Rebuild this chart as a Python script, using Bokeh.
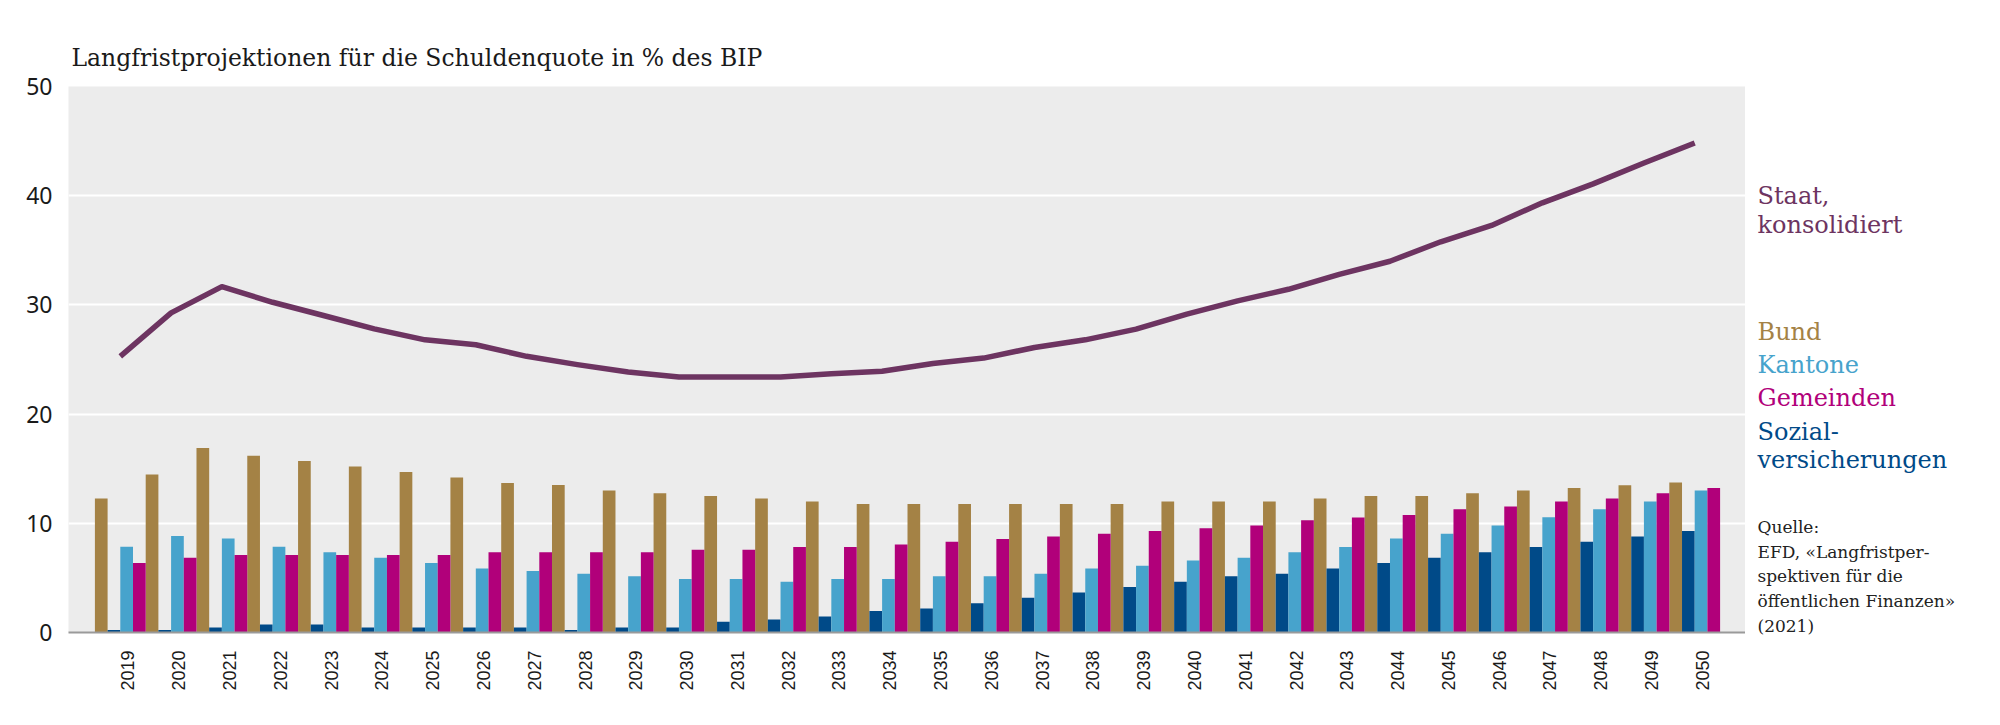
import math
from bokeh.plotting import figure
from bokeh.layouts import row
from bokeh.models import ColumnDataSource, FixedTicker, CustomJSTickFormatter, Label, Range1d
from bokeh.transform import dodge
from bokeh.embed import file_html
from bokeh.resources import INLINE

years = list(range(2019, 2051))
bund = [12.26, 14.46, 16.9, 16.18, 15.7, 15.2, 14.7, 14.2, 13.7, 13.5, 13.0, 12.75, 12.5, 12.26, 12.0, 11.77,
        11.77, 11.77, 11.77, 11.77, 11.77, 12.0, 12.0, 12.0, 12.26, 12.5, 12.5, 12.75, 13.0, 13.24, 13.49, 13.73]
sozial = [0.24, 0.24, 0.46, 0.73, 0.73, 0.46, 0.46, 0.46, 0.46, 0.24, 0.46, 0.46, 0.98, 1.19, 1.47, 1.96,
          2.2, 2.69, 3.18, 3.67, 4.16, 4.65, 5.14, 5.38, 5.87, 6.36, 6.85, 7.34, 7.83, 8.32, 8.8, 9.3]
kantone = [7.86, 8.84, 8.6, 7.86, 7.34, 6.85, 6.36, 5.87, 5.63, 5.38, 5.14, 4.9, 4.9, 4.65, 4.9, 4.9,
           5.14, 5.14, 5.38, 5.87, 6.12, 6.6, 6.85, 7.34, 7.83, 8.6, 9.05, 9.79, 10.55, 11.28, 12.0, 13.0]
gemeinden = [6.36, 6.85, 7.1, 7.1, 7.1, 7.1, 7.1, 7.34, 7.34, 7.34, 7.34, 7.58, 7.58, 7.83, 7.83, 8.07,
             8.32, 8.56, 8.8, 9.05, 9.3, 9.54, 9.79, 10.28, 10.52, 10.76, 11.28, 11.53, 12.0, 12.26, 12.75, 13.24]
staat = [25.29, 29.27, 31.67, 30.24, 29.03, 27.8, 26.8, 26.35, 25.29, 24.53, 23.86, 23.4, 23.4, 23.4, 23.7, 23.92,
         24.64, 25.13, 26.1, 26.8, 27.78, 29.15, 30.37, 31.43, 32.8, 34.0, 35.78, 37.28, 39.35, 41.08, 43.0, 44.83]
y_ticks = [0, 10, 20, 30, 40, 50]

title_text = "Langfristprojektionen für die Schuldenquote in % des BIP"
series_names = ["Bund", "Kantone", "Gemeinden", "Sozial-\nversicherungen"]
staat_name = "Staat,\nkonsolidiert"
source_lines = ["Quelle:", "EFD, «Langfristper-", "spektiven für die", "öffentlichen Finanzen»", "(2021)"]

C_BUND = "#a48245"
C_SOZ = "#004a88"
C_KANT = "#47a3cc"
C_GEM = "#b1007a"
C_STAAT = "#6d3461"

src = ColumnDataSource(dict(year=years, bund=bund, sozial=sozial, kantone=kantone,
                            gemeinden=gemeinden, staat=staat))

H = 717
p = figure(width=1745, height=H, output_backend="svg", toolbar_location=None,
           x_range=Range1d(2017.98, 2051.0), y_range=Range1d(0, 50),
           min_border_left=68, min_border_right=0, min_border_top=86, min_border_bottom=85)
p.frame_align = False

p.background_fill_color = "#ececec"
p.border_fill_color = "white"
p.outline_line_color = None
p.xgrid.grid_line_color = None
p.ygrid.grid_line_color = "white"
p.ygrid.grid_line_width = 2
p.ygrid.ticker = FixedTicker(ticks=y_ticks)

p.title.text = title_text
p.title.text_font = "DejaVu Serif"
p.title.text_font_size = "23.5px"
p.title.text_font_style = "normal"
p.title.text_color = "#1a1a1a"
p.title.align = "left"
p.title.offset = 3
p.title.standoff = 30

bw = 0.25
p.vbar(x=dodge("year", -0.375, range=p.x_range), top="bund", width=bw, source=src,
       fill_color=C_BUND, line_color=None)
p.vbar(x=dodge("year", -0.125, range=p.x_range), top="sozial", width=bw, source=src,
       fill_color=C_SOZ, line_color=None)
p.vbar(x=dodge("year", 0.125, range=p.x_range), top="kantone", width=bw, source=src,
       fill_color=C_KANT, line_color=None)
p.vbar(x=dodge("year", 0.375, range=p.x_range), top="gemeinden", width=bw, source=src,
       fill_color=C_GEM, line_color=None)
p.line(x="year", y="staat", source=src, line_color=C_STAAT, line_width=5.5, line_join="round")

# axes
yax = p.yaxis[0]
yax.ticker = FixedTicker(ticks=y_ticks)
yax.axis_line_color = None
yax.major_tick_line_color = None
yax.major_tick_out = 0
yax.major_tick_in = 0
yax.minor_tick_line_color = None
yax.major_label_text_font = "Noto Sans"
yax.major_label_text_font_size = "23px"
yax.major_label_text_color = "#1a1a1a"
yax.major_label_standoff = 16

xax = p.xaxis[0]
xax.ticker = FixedTicker(ticks=[y + 0.15 for y in years])
xax.formatter = CustomJSTickFormatter(code="return String(Math.round(tick - 0.15));")
xax.major_label_orientation = math.pi / 2
xax.major_label_text_font = "Liberation Sans"
xax.major_label_text_font_size = "18px"
xax.major_label_text_color = "#1a1a1a"
xax.major_label_standoff = 18
xax.major_tick_line_color = None
xax.major_tick_out = 0
xax.major_tick_in = 0
xax.minor_tick_line_color = None
xax.axis_line_color = "#9a9a9a"
xax.axis_line_width = 2

# right-hand text panel (pixel coordinates, y from top)
W2 = 247
p2 = figure(width=W2, height=H, output_backend="svg", toolbar_location=None,
            x_range=Range1d(0, W2), y_range=Range1d(H, 0),
            x_axis_type=None, y_axis_type=None,
            min_border_left=0, min_border_right=0, min_border_top=0, min_border_bottom=0)
p2.frame_align = False
p2.outline_line_color = None
p2.background_fill_color = "white"
p2.border_fill_color = "white"
p2.xgrid.grid_line_color = None
p2.ygrid.grid_line_color = None

SERIF = "DejaVu Serif"
RX = 12

def lab(y, text, color, size):
    p2.add_layout(Label(x=RX, y=y, text=text, text_color=color, text_font=SERIF,
                        text_font_size=size, text_baseline="alphabetic", text_align="left"))

staat1, staat2 = staat_name.split("\n")
lab(195, staat1, C_STAAT, "24px")
lab(224, staat2, C_STAAT, "24px")
lab(331, series_names[0], C_BUND, "24px")
lab(364, series_names[1], C_KANT, "24px")
lab(397, series_names[2], C_GEM, "24px")
soz1, soz2 = series_names[3].split("\n")
lab(431, soz1, C_SOZ, "24px")
lab(459, soz2, C_SOZ, "24px")

src_y = [526, 551, 575, 600, 625]
for t, yy in zip(source_lines, src_y):
    lab(yy, t, "#222222", "17px")

layout = row(p, p2, spacing=0)
open("out.html", "w").write(file_html(layout, INLINE))
